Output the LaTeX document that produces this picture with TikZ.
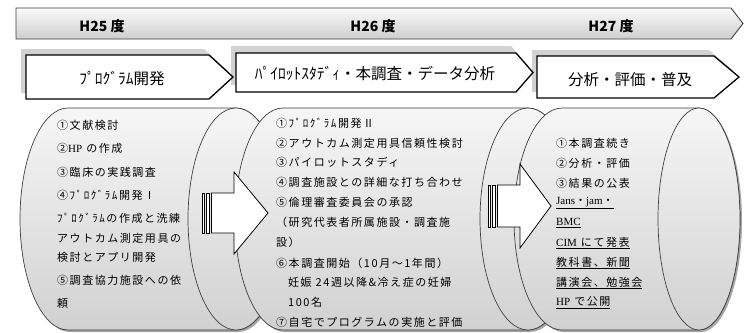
\documentclass[tikz,border=0pt]{standalone}
\usepackage{fontspec}
\setmainfont{Noto Sans CJK JP}
\newfontfamily\jpsp[LetterSpace=14]{Noto Sans CJK JP}
\newfontfamily\lat{Liberation Serif}
\begin{document}
\begin{tikzpicture}[x=1pt,y=-1pt,
  banner/.style={draw=black!75, line width=0.9pt, top color=gray!4, bottom color=gray!38},
  pbox/.style={draw=black, line width=1.3pt, fill=white},
  pshadow/.style={fill=gray!35, draw=none},
  cyl/.style={draw=black!75, line width=0.7pt, top color=gray!7, bottom color=gray!36},
  cylshadow/.style={fill=gray!70, draw=none},
  barrow/.style={draw=black, line width=0.8pt, fill=white},
  ttl/.style={font=\fontsize{14}{16}\selectfont\bfseries, inner sep=0},
  ptxt/.style={font=\fontsize{15.5}{18}\selectfont, inner sep=0},
  ctxt/.style={font=\fontsize{11}{13}\selectfont\jpsp, anchor=west, inner sep=0}]
\useasboundingbox (0,0) rectangle (744,332);
\fill[white] (0,0) rectangle (744,332);

% top banner
\path[banner] (16,8) -- (731,8) -- (743,23.5) -- (731,39) -- (16,39) -- cycle;
\node[ttl] (h25) at (102,26) {H25 度};
\node[ttl] (h26) at (373,26) {H26 度};
\node[ttl] (h27) at (611,26) {H27 度};

% phase boxes: shadows then boxes
\path[pshadow] (21,49) -- (204,49) -- (228,71) -- (204,93) -- (21,93) -- cycle;
\path[pshadow] (231,46) -- (511,46) -- (528,65.5) -- (511,85) -- (231,85) -- cycle;
\path[pshadow] (532,50) -- (709,50) -- (734,71) -- (709,92) -- (532,92) -- cycle;
\path[pbox] (26,55) -- (209,55) -- (233,77) -- (209,99) -- (26,99) -- cycle;
\path[pbox] (236,53) -- (516,53) -- (533,72.5) -- (516,92) -- (236,92) -- cycle;
\path[pbox] (537,56) -- (714,56) -- (739,77) -- (714,98) -- (537,98) -- cycle;
\node[ptxt] (b1t) at (122,79) {ﾌﾟﾛｸﾞﾗﾑ開発};
\node[ptxt] (b2t) at (375,74) {ﾊﾟｲﾛｯﾄｽﾀﾃﾞｨ・本調査・データ分析};
\node[ptxt] (b3t) at (630,80) {分析・評価・普及};

% cylinder 1
\path[cylshadow] (70,110) -- (238,110) arc[start angle=90, end angle=-90, x radius=48pt, y radius=111pt] -- (70,332) arc[start angle=270, end angle=90, x radius=48pt, y radius=111pt] -- cycle;
\path[cyl] (68,108) -- (236,108) arc[start angle=90, end angle=-90, x radius=48pt, y radius=111pt] -- (68,330) arc[start angle=270, end angle=90, x radius=48pt, y radius=111pt] -- cycle;
\path[cyl] (236,219) ellipse[x radius=48pt, y radius=111pt];
% cylinder 2
\path[cylshadow] (285,110) -- (530,110) arc[start angle=90, end angle=-90, x radius=48pt, y radius=111pt] -- (285,332) arc[start angle=270, end angle=90, x radius=48pt, y radius=111pt] -- cycle;
\path[cyl] (283,108) -- (528,108) arc[start angle=90, end angle=-90, x radius=48pt, y radius=111pt] -- (283,330) arc[start angle=270, end angle=90, x radius=48pt, y radius=111pt] -- cycle;
\path[cyl] (528,219) ellipse[x radius=48pt, y radius=111pt];
% cylinder 3
\path[cylshadow] (564,110) -- (701,110) arc[start angle=90, end angle=-90, x radius=41pt, y radius=111pt] -- (564,332) arc[start angle=270, end angle=90, x radius=48pt, y radius=111pt] -- cycle;
\path[cyl] (562,108) -- (699,108) arc[start angle=90, end angle=-90, x radius=41pt, y radius=111pt] -- (562,330) arc[start angle=270, end angle=90, x radius=48pt, y radius=111pt] -- cycle;
\path[cyl] (699,219) ellipse[x radius=41pt, y radius=111pt];

% striped block arrows
\path[barrow] (202,193) rectangle (204.5,233);
\path[barrow] (206.5,193) rectangle (209.5,233);
\path[barrow] (211.5,193) -- (234,193) -- (234,172) -- (268,213) -- (234,254) -- (234,233) -- (211.5,233) -- cycle;
\path[barrow] (488,185) rectangle (490.5,227);
\path[barrow] (492.5,185) rectangle (495.5,227);
\path[barrow] (497.5,185) -- (520,185) -- (520,164) -- (551,206) -- (520,248) -- (520,227) -- (497.5,227) -- cycle;

% left column
\node[ctxt] (l1) at (57,125) {①文献検討};
\node[ctxt] (l2) at (57,148) {②{\lat HP} の作成};
\node[ctxt] (l3) at (57,172) {③臨床の実践調査};
\node[ctxt] (l4) at (57,195) {④ﾌﾟﾛｸﾞﾗﾑ開発Ⅰ};
\node[ctxt] (l5) at (57,218) {ﾌﾟﾛｸﾞﾗﾑの作成と洗練};
\node[ctxt] (l6) at (57,238) {アウトカム測定用具の};
\node[ctxt] (l7) at (57,257) {検討とアプリ開発};
\node[ctxt] (l8) at (57,280) {⑤調査協力施設への依};
\node[ctxt] (l9) at (57,303) {頼};

% middle column
\node[ctxt] (m1) at (276,123) {①ﾌﾟﾛｸﾞﾗﾑ開発Ⅱ};
\node[ctxt] (m2) at (276,143) {②アウトカム測定用具信頼性検討};
\node[ctxt] (m3) at (276,162) {③パイロットスタディ};
\node[ctxt] (m4) at (276,182) {④調査施設との詳細な打ち合わせ};
\node[ctxt] (m5) at (276,202) {⑤倫理審査委員会の承認};
\node[ctxt] (m6) at (276,222) {（研究代表者所属施設・調査施};
\node[ctxt] (m7) at (276,242) {設）};
\node[ctxt] (m8) at (276,263) {⑥本調査開始（10月～1年間）};
\node[ctxt] (m9) at (288,282) {妊娠 24週以降\&冷え症の妊婦};
\node[ctxt] (m10) at (288,302) {100名};
\node[ctxt] (m11) at (276,322) {⑦自宅でプログラムの実施と評価};

% right column
\node[ctxt] (r1) at (556,143) {①本調査続き};
\node[ctxt] (r2) at (556,163) {②分析・評価};
\node[ctxt] (r3) at (556,183) {③結果の公表};
\node[ctxt] (r4) at (556,203) {\underline{{\lat Jans}・{\lat jam}・}};
\node[ctxt] (r5) at (556,223) {\underline{\lat BMC}};
\node[ctxt] (r6) at (556,243) {\underline{{\lat CIM} にて発表}};
\node[ctxt] (r7) at (556,263) {\underline{教科書、新聞}};
\node[ctxt] (r8) at (556,283) {\underline{講演会、勉強会}};
\node[ctxt] (r9) at (556,303) {\underline{{\lat HP} で公開}};
\end{tikzpicture}
\end{document}
